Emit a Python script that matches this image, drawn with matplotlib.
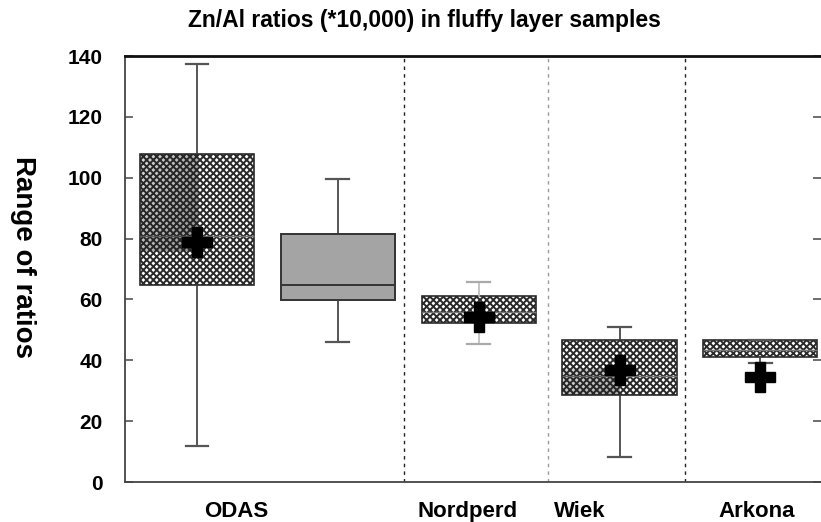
import matplotlib
matplotlib.use("Agg")
import matplotlib.pyplot as plt
import numpy as np

# ---- data ----
site_labels = ["ODAS", "Nordperd", "Wiek", "Arkona"]
box_q1 = [64.7, 59.8, 52.2, 28.6, 41.1]
box_q3 = [107.8, 81.5, 61.0, 46.7, 46.7]
box_med = [81.0, 64.7, 56.0, 35.0, 43.5]
box_lo = [11.8, 46.0, 45.3, 8.2, 39.0]
box_hi = [137.4, 99.6, 65.7, 51.0, 46.7]
box_mean = [79.0, None, 54.2, 36.8, 34.5]
y_ticks = [0, 20, 40, 60, 80, 100, 120, 140]

# ---- layout ----
positions = [1, 2, 3, 4, 5]
label_pos = [1.28, 2.92, 3.72, 4.97]
dividers = [(2.468, "#222222"), (3.489, "#9a9a9a"), (4.468, "#222222")]
box_width = 0.81

plt.rcParams["font.family"] = ["Liberation Sans", "DejaVu Sans"]
plt.rcParams["hatch.linewidth"] = 1.4
plt.rcParams["hatch.color"] = "#2e2e2e"

fig = plt.figure(figsize=(8.21, 5.22), dpi=100)
ax = fig.add_axes([125 / 821, 40 / 522, 696 / 821, 426 / 522])

stats = []
for i in range(len(box_q1)):
    stats.append(dict(med=box_med[i], q1=box_q1[i], q3=box_q3[i],
                      whislo=box_lo[i], whishi=box_hi[i]))

bp = ax.bxp(stats, positions=positions, widths=box_width, patch_artist=True,
            showfliers=False, showcaps=True,
            boxprops=dict(linewidth=1.2, edgecolor="#2a2a2a"),
            whiskerprops=dict(linewidth=1.2, color="#3a3a3a"),
            capprops=dict(linewidth=1.6, color="#555555"),
            medianprops=dict(linewidth=1.0, color="#777777"),
            capwidths=0.16, zorder=3)

for i, patch in enumerate(bp["boxes"]):
    if i == 1:
        patch.set_facecolor("#a4a4a4")
        patch.set_edgecolor("#333333")
        patch.set_linewidth(1.4)
    else:
        patch.set_facecolor("white")
        patch.set_hatch("xxxxx")
bp["medians"][1].set_color("#333333")
bp["medians"][1].set_linewidth(1.4)
# faint caps for Nordperd
for c in bp["caps"][4:6]:
    c.set_color("#aaaaaa")
for w in bp["whiskers"][4:6]:
    w.set_color("#bbbbbb")

# shading overlays (scan artefacts) in ODAS and Wiek boxes
def shade(ax, x0, x1, y0, y1, clip, strength):
    yy, xx = np.mgrid[0:1:50j, 0:1:50j]
    g = np.clip(0.3 + strength * (xx * 0.6 + yy * 0.4), 0, 1)
    img = np.zeros((50, 50, 4))
    img[..., :3] = 0.12
    img[..., 3] = g * 0.55
    im = ax.imshow(img, extent=[x0, x1, y0, y1], origin="upper",
                   aspect="auto", zorder=3.5, interpolation="bilinear")
    im.set_clip_path(clip)

p0 = positions[0]
shade(ax, p0 - box_width / 2, p0, box_mean[0] - 3, box_q3[0],
      bp["boxes"][0], 0.6)
shade(ax, positions[3] - box_width / 2, positions[3], box_q1[3],
      box_med[3] + 2, bp["boxes"][3], 0.4)

for i, m in enumerate(box_mean):
    if m is not None:
        ax.plot(positions[i], m, marker="P", markersize=21, color="black",
                markeredgecolor="black", zorder=5)

for xd, col in dividers:
    ax.axvline(xd, color=col, linestyle=(0, (2.5, 3)), linewidth=1.0, zorder=1)

ax.set_xlim(0.49, 5.43)
ax.set_ylim(0, 140)
ax.set_yticks(y_ticks)
ax.set_yticklabels([str(t) for t in y_ticks], fontweight="bold", fontsize=15)
ax.tick_params(axis="y", direction="in", length=6, width=1.2, color="#555555",
               left=True, right=True, pad=16)
ax.set_xticks(label_pos)
ax.set_xticklabels(site_labels, fontweight="bold", fontsize=16)
ax.tick_params(axis="x", length=0, pad=14)

ax.spines["right"].set_visible(False)
for s in ["left", "bottom"]:
    ax.spines[s].set_color("#444444")
    ax.spines[s].set_linewidth(1.3)
ax.spines["top"].set_color("#111111")
ax.spines["top"].set_linewidth(2.0)

fig.text(424 / 821, 1 - 21 / 522, "Zn/Al ratios (*10,000) in fluffy layer samples",
         ha="center", va="center", fontsize=16.5, fontweight="bold")
fig.text(23 / 821, 1 - 257 / 522, "Range of ratios", rotation=270,
         ha="center", va="center", fontsize=20, fontweight="bold")

fig.savefig("out.png", dpi=100)
